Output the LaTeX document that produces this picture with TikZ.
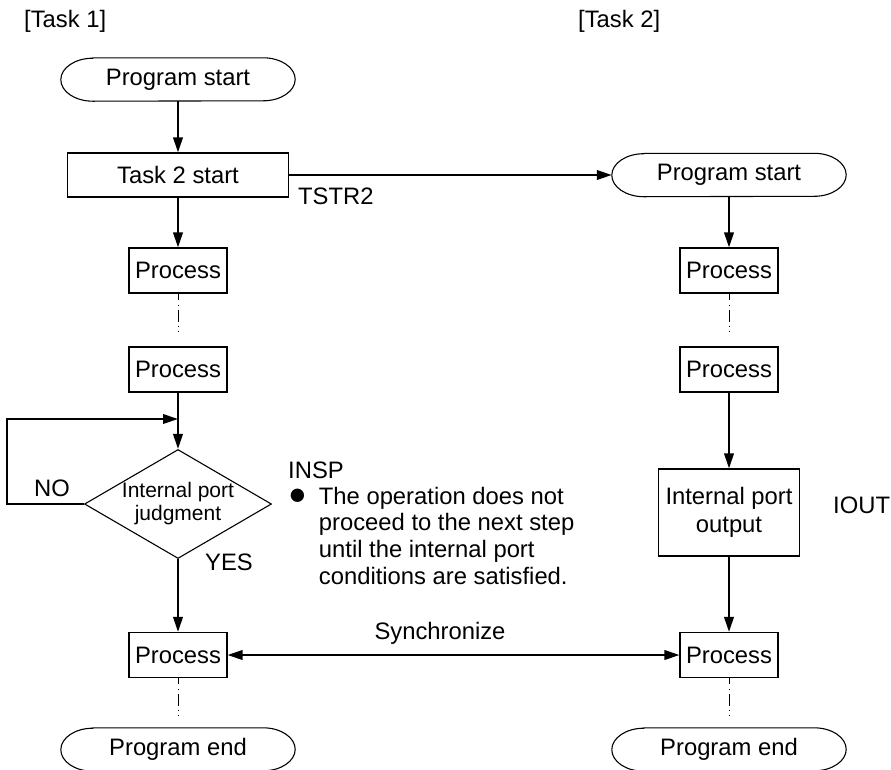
\documentclass[tikz,border=0pt]{standalone}
\usepackage{fontspec}
\setmainfont{Liberation Sans}
\usetikzlibrary{arrows.meta,shapes.geometric}

\begin{document}
\begin{tikzpicture}[x=1pt,y=-1pt,line join=miter,>={Triangle[length=15pt,width=9.5pt]},
  every node/.style={inner sep=0pt,font=\fontsize{23.8pt}{26.7pt}\selectfont},
  flow/.style={line width=2.2pt,->},
  gap/.style={line width=0.7pt,dash pattern=on 6pt off 5pt on 1pt off 4pt on 12pt off 4pt on 1pt off 4pt on 1pt off 20pt},
  procbox/.style={draw,line width=1.1pt,minimum width=98pt,minimum height=45pt},
  term/.style={minimum width=234pt,minimum height=43pt}]
  \clip (0,0) rectangle (891,769);
  \def\L{178}
  \def\R{729}
  % headings
  \node[anchor=west] (h1) at (24,21) {[Task 1]};
  \node[anchor=west] (h2) at (578,21) {[Task 2]};
  % task 1 column
  \node[term] (start1) at (\L,79.5) {Program start};
  \node[procbox,minimum width=221pt,minimum height=44pt] (t2start) at (\L,175) {Task 2 start};
  \node[procbox] (p1a) at (\L,270.5) {Process};
  \node[procbox] (p1b) at (\L,369.5) {Process};
  \node[draw,diamond,shape aspect=1.72,minimum width=187pt,minimum height=109pt,inner sep=-3pt,
    line width=1.1pt,align=center,font=\fontsize{21pt}{23pt}\selectfont] (judge) at (\L,504) {Internal port\\judgment};
  \node[procbox] (p1c) at (\L,655) {Process};
  \node[term] (end1) at (\L,749.5) {Program end};
  % task 2 column
  \node[term] (start2) at (\R,175) {Program start};
  \node[procbox] (p2a) at (\R,270.5) {Process};
  \node[procbox] (p2b) at (\R,369.5) {Process};
  \node[procbox,minimum width=141pt,minimum height=87pt,align=center] (iout) at (\R,512.5) {Internal port\\[1.3pt]output};
  \node[procbox] (p2c) at (\R,655) {Process};
  \node[term] (end2) at (\R,749.5) {Program end};
  % terminal outlines
  \foreach \n in {start1,start2,end1,end2}{
    \draw[line width=1.1pt] ([xshift=32pt]\n.north west) -- ([xshift=-32pt]\n.north east)
      arc[start angle=90,end angle=-90,x radius=32pt,y radius=21.5pt]
      -- ([xshift=32pt]\n.south west)
      arc[start angle=270,end angle=90,x radius=32pt,y radius=21.5pt] -- cycle;
  }
  % labels
  \node[anchor=west] (tstr) at (298,196) {TSTR2};
  \node (no) at (52,488) {NO};
  \node (yes) at (229,562) {YES};
  \node[anchor=north west] (insp) at (288,460) {\begin{tabular}{@{}l@{\hspace{12pt}}l@{}}
    \multicolumn{2}{@{}l@{}}{INSP}\\[-1.5pt]
    {\fontsize{31pt}{26.7pt}\selectfont ●} & The operation does not\\
    & proceed to the next step\\
    & until the internal port\\
    & conditions are satisfied.
  \end{tabular}};
  \node[anchor=west] (ioutlbl) at (833,505) {IOUT};
  \node (synclbl) at (440,633) {Synchronize};
  % connectors
  \coordinate (merge) at (\L,419);
  \draw[flow] (start1) -- (t2start);
  \draw[flow] (t2start) -- (p1a);
  \draw[gap] (p1a) -- (p1b);
  \draw[flow] (p1b) -- (judge);
  \draw[flow] (judge.west) -- ++(-77,0) |- (merge);
  \draw[flow] (judge) -- (p1c);
  \draw[gap] (p1c) -- (end1);
  \draw[flow] (t2start) -- (start2);
  \draw[flow] (start2) -- (p2a);
  \draw[gap] (p2a) -- (p2b);
  \draw[flow] (p2b) -- (iout);
  \draw[flow] (iout) -- (p2c);
  \draw[gap] (p2c) -- (end2);
  \draw[flow,<->] (p1c) -- (p2c);
\end{tikzpicture}
\end{document}
